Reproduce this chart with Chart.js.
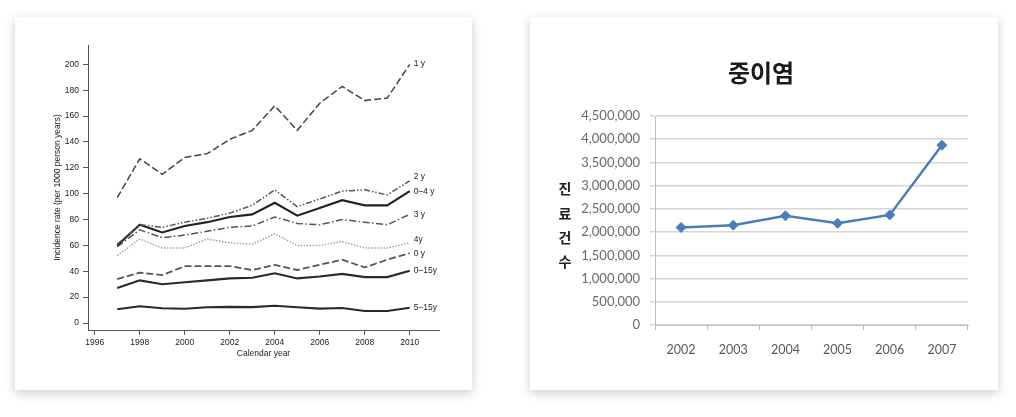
<!DOCTYPE html>
<html><head><meta charset="utf-8">
<script src="https://cdn.jsdelivr.net/npm/chart.js@4.4.1/dist/chart.umd.min.js"></script>
<style>
html,body{margin:0;padding:0;background:#fff;width:1016px;height:417px;overflow:hidden;}
.card{position:absolute;background:#fff;box-shadow:0 3px 10px rgba(0,0,0,0.2);}
#c1{left:15px;top:17px;width:457px;height:373px;}
#c2{left:530px;top:17px;width:468px;height:373px;}
canvas{display:block;}
</style></head><body>
<div class="card" id="c1"><canvas id="left" width="457" height="373"></canvas></div>
<div class="card" id="c2"><canvas id="right" width="468" height="373"></canvas></div>
<script>
// ---------- Left chart data ----------
const years = [1997,1998,1999,2000,2001,2002,2003,2004,2005,2006,2007,2008,2009,2010];
const rate1y   = [97,127,115,128,131,142,149,168,149,170,183,172,174,200];
const rate2y   = [61,76,74,78,81,85,91,103,90,96,102,103,99,110];
const rate04y  = [60,76,70,75,78,82,84,93,83,89,95,91,91,102];
const rate3y   = [59,72,66,68,71,74,75,82,77,76,80,78,76,84];
const rate4y   = [52,65,58,58,65,62,61,69,60,60,63,58,58,62];
const rate0y   = [34,39,37,44,44,44,41,45,41,45,49,43,49,54];
const rate015y = [27,33,30,31.5,33,34.5,35,38.5,34.5,36,38,35.5,35.5,40.5];
const rate515y = [10.6,13,11.4,11,12.2,12.5,12.3,13.4,12.2,11.1,11.6,9.3,9.3,11.8];
const endLabels = ['1 y','2 y','0\u20134 y','3 y','4y','0 y','0\u201315y','5\u201315y'];
const yTicksLeft = [0,20,40,60,80,100,120,140,160,180,200];
const xTicksLeft = [1996,1998,2000,2002,2004,2006,2008,2010];
const yTitleLeft = 'Incidence rate (per 1000 person years)';
const xTitleLeft = 'Calendar year';

// ---------- Right chart data ----------
const otitisYears = ['2002','2003','2004','2005','2006','2007'];
const otitisCases = [2100000,2150000,2350000,2190000,2370000,3870000];
const otitisTitle = '중이염';
const otitisYTitle = ['진','료','건','수'];

const toXY = arr => arr.map((v,i)=>({x:years[i], y:v}));
const leftFont = "'Liberation Sans Narrow','Liberation Sans',Arial,sans-serif";

const series = [
  {data: rate1y,   color:'#444', width:1.5, dash:[7,3]},
  {data: rate2y,   color:'#555', width:1.5, dash:[6,2,1.5,2,1.5,2]},
  {data: rate04y,  color:'#222', width:2.1, dash:[]},
  {data: rate3y,   color:'#555', width:1.5, dash:[7,2.5,1.5,2.5]},
  {data: rate4y,   color:'#a0a0a0', width:1.4, dash:[1.5,1.5]},
  {data: rate0y,   color:'#555', width:1.8, dash:[7,3]},
  {data: rate015y, color:'#2a2a2a', width:2.1, dash:[]},
  {data: rate515y, color:'#2a2a2a', width:2.1, dash:[]}
];

const endLabelPlugin = {
  id: 'endLabels',
  afterDatasetsDraw(chart, args, opts) {
    const ctx = chart.ctx;
    ctx.save();
    ctx.font = opts.font;
    ctx.fillStyle = opts.color;
    ctx.textBaseline = 'middle';
    ctx.textAlign = 'left';
    chart.data.datasets.forEach((ds, i) => {
      const meta = chart.getDatasetMeta(i);
      const pt = meta.data[meta.data.length - 1];
      ctx.fillText(ds.label, pt.x + opts.dx, pt.y + (opts.dy[i] || 0));
    });
    ctx.restore();
  }
};

new Chart(document.getElementById('left'), {
  type: 'line',
  data: {
    datasets: series.map((s, i) => ({
      label: endLabels[i],
      data: toXY(s.data),
      borderColor: s.color,
      borderWidth: s.width,
      borderDash: s.dash,
      pointRadius: 0,
      fill: false,
      tension: 0
    }))
  },
  options: {
    responsive: false,
    animation: false,
    layout: {padding: {left: 0, right: 33, top: 28, bottom: 0}},
    plugins: {
      legend: {display: false},
      tooltip: {enabled: false},
      endLabels: {font: "8.5px " + leftFont, color: '#222', dx: 4, dy: [-1,-4,1,0,-3,0,0,0]}
    },
    scales: {
      x: {
        type: 'linear', min: 1995.7, max: 2011.3,
        afterBuildTicks: s => { s.ticks = xTicksLeft.map(v => ({value: v})); },
        afterFit: s => { s.height = 60; },
        ticks: {font: {family: leftFont, size: 8.5}, color: '#222', padding: 3, callback: v => String(v), maxRotation: 0},
        grid: {drawOnChartArea: false, color: '#555', tickLength: 5},
        border: {color: '#555', width: 1},
        title: {display: true, text: xTitleLeft, font: {family: leftFont, size: 8.5}, color: '#222', padding: {top: 0, bottom: 31}}
      },
      y: {
        type: 'linear', min: -5.4, max: 215,
        afterBuildTicks: s => { s.ticks = yTicksLeft.map(v => ({value: v})); },
        afterFit: s => { s.width = 73; },
        ticks: {font: {family: leftFont, size: 8.5}, color: '#222', padding: 4},
        grid: {drawOnChartArea: false, color: '#555', tickLength: 5},
        border: {color: '#555', width: 1},
        title: {display: true, text: yTitleLeft, font: {family: leftFont, size: 8.5}, color: '#222', padding: {top: 38, bottom: 0}}
      }
    }
  },
  plugins: [endLabelPlugin]
});

// ---------- Right chart ----------
const stackedTitlePlugin = {
  id: 'stackedTitle',
  afterDraw(chart, args, opts) {
    const ctx = chart.ctx;
    const area = chart.chartArea;
    ctx.save();
    ctx.font = opts.font;
    ctx.fillStyle = opts.color;
    ctx.textAlign = 'center';
    ctx.textBaseline = 'middle';
    const n = opts.chars.length;
    const cy = (area.top + area.bottom) / 2 + opts.shift;
    opts.chars.forEach((c, i) => {
      ctx.fillText(c, opts.x, cy + (i - (n - 1) / 2) * opts.step);
    });
    ctx.restore();
  }
};

const rFont = "Lato,'Noto Sans',sans-serif";
new Chart(document.getElementById('right'), {
  type: 'line',
  data: {
    labels: otitisYears,
    datasets: [{
      data: otitisCases,
      borderColor: '#4a7ebb',
      backgroundColor: '#4a7ebb',
      borderWidth: 2.5,
      pointStyle: 'rectRot',
      pointRadius: 5,
      pointBorderWidth: 1,
      tension: 0,
      fill: false
    }]
  },
  options: {
    responsive: false,
    animation: false,
    layout: {padding: {left: 24, right: 30, top: 0, bottom: 0}},
    plugins: {
      legend: {display: false},
      tooltip: {enabled: false},
      title: {
        display: true, text: otitisTitle, color: '#1a1a1a',
        font: {family: "'Noto Sans CJK KR',sans-serif", size: 24, weight: 'bold', lineHeight: 1.2},
        padding: {top: 41.6, bottom: 28.6}
      },
      stackedTitle: {chars: otitisYTitle, font: "bold 14px 'Noto Sans CJK KR',sans-serif", color: '#222', x: 35, step: 24.3, shift: 5}
    },
    scales: {
      x: {
        offset: true,
        afterFit: s => { s.height = 65; },
        ticks: {font: {family: rFont, size: 12.5}, color: '#595959', padding: 12, maxRotation: 0},
        grid: {offset: true, drawOnChartArea: false, color: '#bfbfbf', tickLength: 5},
        border: {color: '#bfbfbf', width: 1}
      },
      y: {
        min: 0, max: 4500000,
        afterFit: s => { s.width = 101; },
        ticks: {stepSize: 500000, font: {family: rFont, size: 13}, color: '#6a6a6a', padding: 10},
        grid: {color: '#d6d6d6', lineWidth: 1.5, tickLength: 5},
        border: {color: '#bfbfbf', width: 1}
      }
    }
  },
  plugins: [stackedTitlePlugin]
});
</script>
</body></html>
